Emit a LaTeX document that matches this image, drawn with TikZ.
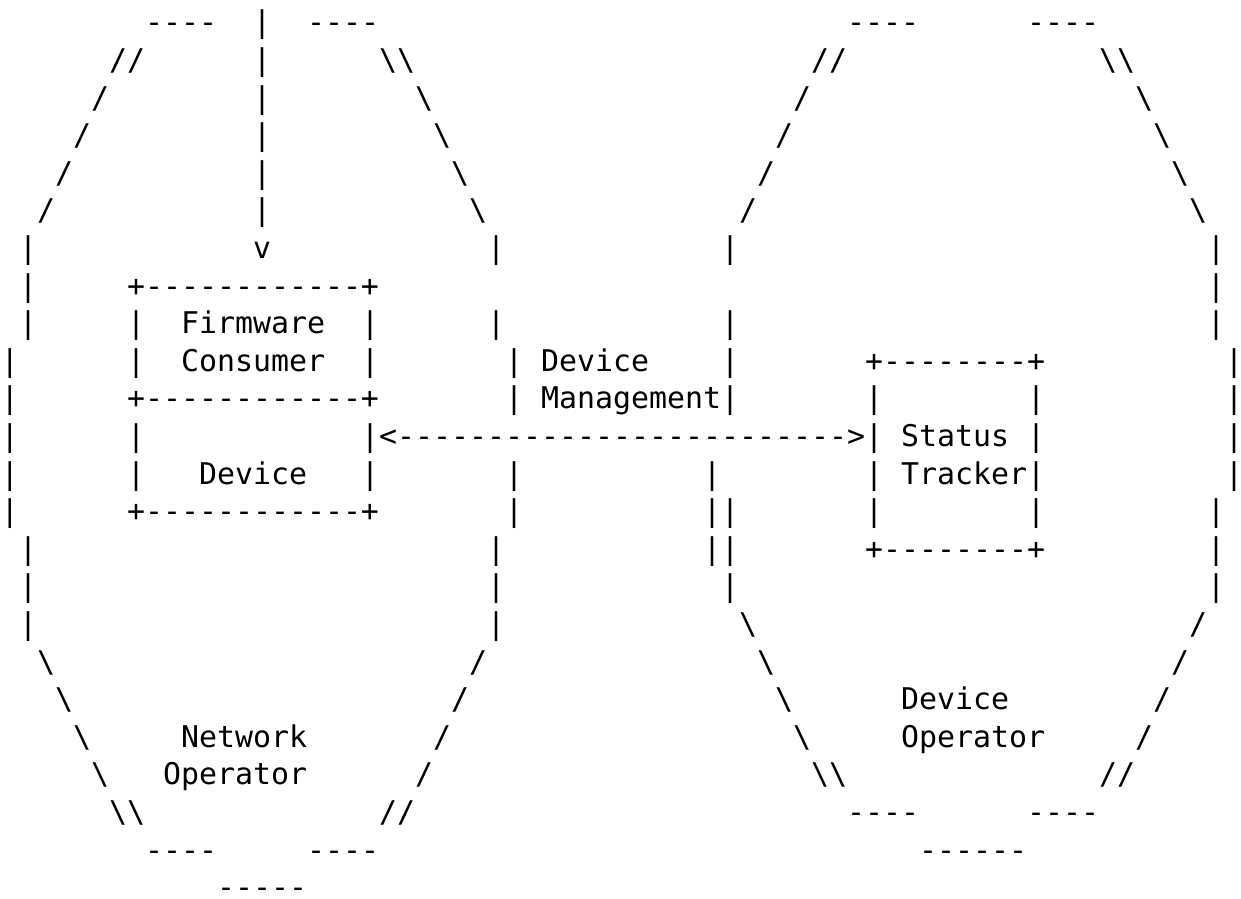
\documentclass[tikz,border=0pt]{standalone}
\usepackage{fontspec}
\setmonofont{DejaVu Sans Mono}
\newcommand{\bs}{\textbackslash}
\begin{document}
\begin{tikzpicture}[x=18pt, y=-37.6pt,
  t/.style={anchor=base west, inner sep=0pt, outer sep=0pt, text depth=0pt,
    font=\ttfamily\fontsize{29.9pt}{37.6pt}\selectfont}]
\useasboundingbox (-1pt,32.8pt) rectangle (1240pt,-865.2pt);
\fill[white] (-1pt,32.8pt) rectangle (1240pt,-865.2pt);
% row 0
\node[t] (r0a) at (8,0) {----};
\node[t] (r0b) at (14,0) {|};
\node[t] (r0c) at (17,0) {----};
\node[t] (r0d) at (47,0) {----};
\node[t] (r0e) at (57,0) {----};
% row 1
\node[t] (r1a) at (6,1) {//};
\node[t] (r1b) at (14,1) {|};
\node[t] (r1c) at (21,1) {\bs\bs};
\node[t] (r1d) at (45,1) {//};
\node[t] (r1e) at (61,1) {\bs\bs};
% rows 2-5
\node[t] (r2a) at (5,2) {/};
\node[t] (r2b) at (14,2) {|};
\node[t] (r2c) at (23,2) {\bs};
\node[t] (r2d) at (44,2) {/};
\node[t] (r2e) at (63,2) {\bs};
\node[t] (r3a) at (4,3) {/};
\node[t] (r3b) at (14,3) {|};
\node[t] (r3c) at (24,3) {\bs};
\node[t] (r3d) at (43,3) {/};
\node[t] (r3e) at (64,3) {\bs};
\node[t] (r4a) at (3,4) {/};
\node[t] (r4b) at (14,4) {|};
\node[t] (r4c) at (25,4) {\bs};
\node[t] (r4d) at (42,4) {/};
\node[t] (r4e) at (65,4) {\bs};
\node[t] (r5a) at (2,5) {/};
\node[t] (r5b) at (14,5) {|};
\node[t] (r5c) at (26,5) {\bs};
\node[t] (r5d) at (41,5) {/};
\node[t] (r5e) at (66,5) {\bs};
% row 6
\node[t] (r6a) at (1,6) {|};
\node[t] (r6b) at (14,6) {v};
\node[t] (r6c) at (27,6) {|};
\node[t] (r6d) at (40,6) {|};
\node[t] (r6e) at (67,6) {|};
% row 7
\node[t] (r7a) at (1,7) {|};
\node[t] (r7b) at (7,7) {+------------+};
\node[t] (r7c) at (67,7) {|};
% row 8
\node[t] (r8a) at (1,8) {|};
\node[t] (r8b) at (7,8) {|};
\node[t] (r8c) at (10,8) {Firmware};
\node[t] (r8d) at (20,8) {|};
\node[t] (r8e) at (27,8) {|};
\node[t] (r8f) at (40,8) {|};
\node[t] (r8g) at (67,8) {|};
% row 9
\node[t] (r9a) at (0,9) {|};
\node[t] (r9b) at (7,9) {|};
\node[t] (r9c) at (10,9) {Consumer};
\node[t] (r9d) at (20,9) {|};
\node[t] (r9e) at (28,9) {|};
\node[t] (r9f) at (30,9) {Device};
\node[t] (r9g) at (40,9) {|};
\node[t] (r9h) at (48,9) {+--------+};
\node[t] (r9i) at (68,9) {|};
% row 10
\node[t] (r10a) at (0,10) {|};
\node[t] (r10b) at (7,10) {+------------+};
\node[t] (r10c) at (28,10) {|};
\node[t] (r10d) at (30,10) {Management|};
\node[t] (r10e) at (48,10) {|};
\node[t] (r10f) at (57,10) {|};
\node[t] (r10g) at (68,10) {|};
% row 11
\node[t] (r11a) at (0,11) {|};
\node[t] (r11b) at (7,11) {|};
\node[t] (r11c) at (20,11) {|<------------------------->|};
\node[t] (r11d) at (50,11) {Status};
\node[t] (r11e) at (57,11) {|};
\node[t] (r11f) at (68,11) {|};
% row 12
\node[t] (r12a) at (0,12) {|};
\node[t] (r12b) at (7,12) {|};
\node[t] (r12c) at (11,12) {Device};
\node[t] (r12d) at (20,12) {|};
\node[t] (r12e) at (28,12) {|};
\node[t] (r12f) at (39,12) {|};
\node[t] (r12g) at (48,12) {|};
\node[t] (r12h) at (50,12) {Tracker|};
\node[t] (r12i) at (68,12) {|};
% row 13
\node[t] (r13a) at (0,13) {|};
\node[t] (r13b) at (7,13) {+------------+};
\node[t] (r13c) at (28,13) {|};
\node[t] (r13d) at (39,13) {||};
\node[t] (r13e) at (48,13) {|};
\node[t] (r13f) at (57,13) {|};
\node[t] (r13g) at (67,13) {|};
% row 14
\node[t] (r14a) at (1,14) {|};
\node[t] (r14b) at (27,14) {|};
\node[t] (r14c) at (39,14) {||};
\node[t] (r14d) at (48,14) {+--------+};
\node[t] (r14e) at (67,14) {|};
% row 15
\node[t] (r15a) at (1,15) {|};
\node[t] (r15b) at (27,15) {|};
\node[t] (r15c) at (40,15) {|};
\node[t] (r15d) at (67,15) {|};
% row 16
\node[t] (r16a) at (1,16) {|};
\node[t] (r16b) at (27,16) {|};
\node[t] (r16c) at (41,16) {\bs};
\node[t] (r16d) at (66,16) {/};
% row 17
\node[t] (r17a) at (2,17) {\bs};
\node[t] (r17b) at (26,17) {/};
\node[t] (r17c) at (42,17) {\bs};
\node[t] (r17d) at (65,17) {/};
% row 18
\node[t] (r18a) at (3,18) {\bs};
\node[t] (r18b) at (25,18) {/};
\node[t] (r18c) at (43,18) {\bs};
\node[t] (r18d) at (50,18) {Device};
\node[t] (r18e) at (64,18) {/};
% row 19
\node[t] (r19a) at (4,19) {\bs};
\node[t] (r19b) at (10,19) {Network};
\node[t] (r19c) at (24,19) {/};
\node[t] (r19d) at (44,19) {\bs};
\node[t] (r19e) at (50,19) {Operator};
\node[t] (r19f) at (63,19) {/};
% row 20
\node[t] (r20a) at (5,20) {\bs};
\node[t] (r20b) at (9,20) {Operator};
\node[t] (r20c) at (23,20) {/};
\node[t] (r20d) at (45,20) {\bs\bs};
\node[t] (r20e) at (61,20) {//};
% row 21
\node[t] (r21a) at (6,21) {\bs\bs};
\node[t] (r21b) at (21,21) {//};
\node[t] (r21c) at (47,21) {----};
\node[t] (r21d) at (57,21) {----};
% row 22
\node[t] (r22a) at (8,22) {----};
\node[t] (r22b) at (17,22) {----};
\node[t] (r22c) at (51,22) {------};
% row 23
\node[t] (r23a) at (12,23) {-----};
\end{tikzpicture}
\end{document}
